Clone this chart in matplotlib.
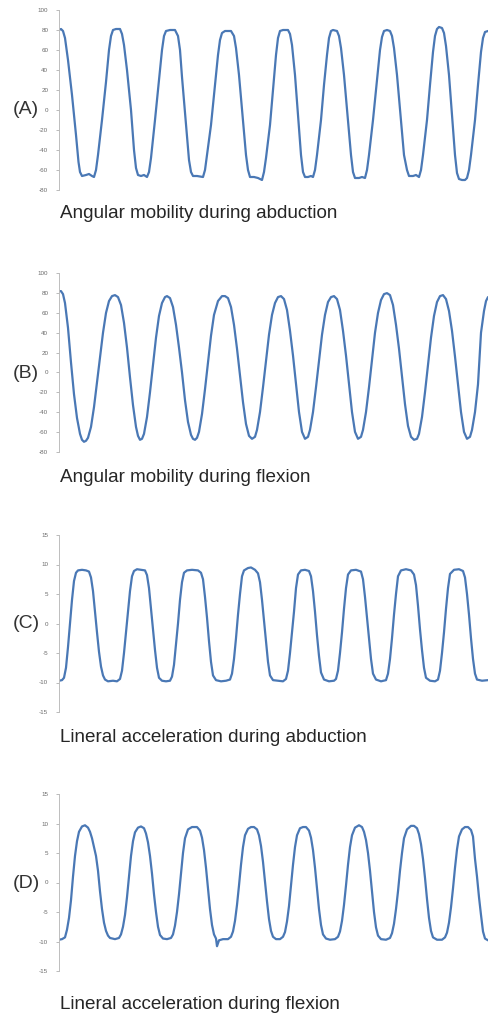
import matplotlib
matplotlib.use("Agg")
import matplotlib.pyplot as plt

# ---------------- data (sample index, value) ----------------
abduction_angle = [
    (59,80),(61,81),(63,79),(65,72),(68,50),(72,15),(76,-25),(78.5,-52),(80,-62),(82,-66),
    (86,-65),(89,-64),(92,-66),(94,-67),(96,-60),(98,-45),(102,-10),(106,28),(109,60),(111,74),(113,80),
    (116,81),(120,81),(122,76),(124,65),(127,40),(131,0),(134,-40),(136,-58),(138,-65),
    (141,-66),(144,-65),(147,-67),(149,-62),(151,-48),(155,-10),(159,30),(162,60),(164,74),(166,79),
    (170,80),(175,80),(178,74),(180,60),(182,33),(186,-15),(189,-50),(191,-62),(193,-66),
    (197,-66),(200,-66.5),(203,-67),(205,-60),(207,-45),(211,-15),(215,25),(218,55),(220,70),(222,77),
    (225,79),(231,79),(234,74),(236,62),(239,35),(243,-10),(246,-45),(248,-60),(250,-67),
    (254,-67),(258,-68),(262,-70),(264,-62),(266,-48),(270,-15),(273,20),(276,55),(278,72),(280,79),
    (283,80),(288,80),(290,76),(292,65),(295,35),(298,-5),(301,-45),(303,-62),(305,-67),
    (308,-67),(311,-66),(313,-67),(315,-60),(317,-45),(321,-10),(324,25),(327,55),(329,72),(331,79),
    (333,80),(337,79),(339,74),(341,62),(344,35),(348,-10),(351,-45),(353,-62),(355,-68),
    (359,-68),(362,-67),(365,-68),(367,-60),(369,-45),(373,-10),(377,30),(380,60),(382,73),(384,79),
    (387,80),(390,79),(392,74),(394,62),(397,35),(401,-10),(404,-45),(407,-60),(409,-66),
    (413,-66),(416,-65),(419,-67),(421,-60),(423,-45),(427,-10),(430,25),(433,58),(435,74),(437,81),
    (439,83),(442,82),(444,77),(446,64),(449,35),(452,-5),(455,-45),(457,-63),(459,-69),
    (462,-70),(465,-70),(467,-68),(469,-60),(471,-45),(475,-10),(478,25),(481,58),(483,72),(485,78),(488,79),
]

flexion_angle = [
    (59,82),(61,82),(63,79),(65,70),(68,45),(71,10),(74,-22),(77,-46),(80,-62),(82,-68),(84,-70),(86,-69),
    (88,-66),(91,-55),(94,-35),(97,-10),(100,15),(103,40),(106,60),(109,72),(112,77),(115,78),(118,76),
    (121,68),(124,50),(127,25),(130,-5),(133,-33),(136,-55),(138,-64),(140,-68),(142,-67),(144,-62),
    (147,-45),(150,-20),(153,8),(156,35),(159,57),(162,70),(165,76),(167,77),(170,75),(173,66),(176,48),
    (179,25),(182,0),(185,-28),(188,-50),(191,-63),(193,-67),(195,-68),(197,-66),(199,-60),(202,-42),
    (205,-17),(208,10),(211,37),(214,58),(218,72),(222,77),(225,77),(228,75),(231,66),(234,48),(237,24),
    (240,-3),(243,-30),(246,-52),(249,-64),(252,-67),(255,-65),(257,-58),(260,-40),(263,-15),(266,12),
    (269,38),(272,58),(275,70),(278,76),(281,77),(284,74),(287,63),(290,42),(293,17),(296,-12),(299,-40),
    (302,-60),(305,-67),(308,-65),(310,-58),(313,-40),(316,-15),(319,12),(322,38),(325,58),(328,71),
    (331,76),(334,77),(337,74),(340,63),(343,42),(346,17),(349,-12),(352,-40),(355,-60),(358,-67),
    (361,-65),(363,-58),(366,-40),(369,-15),(372,12),(375,40),(378,60),(381,73),(384,79),(387,80),
    (390,78),(393,68),(396,48),(399,24),(402,-4),(405,-32),(408,-54),(411,-65),(414,-68),(417,-67),
    (419,-62),(422,-45),(425,-20),(428,8),(431,35),(434,57),(437,71),(440,77),(443,78),(446,74),(449,62),
    (452,42),(455,16),(458,-12),(461,-40),(464,-60),(467,-67),(470,-65),(472,-58),(475,-40),(478,-12),
    (481,40),(484,62),(486,72),(488,76),
]

abduction_accel = [
    (59,-9.7),(62,-9.6),(64,-9.2),(66,-7.5),(68,-4),(70,0),(72,4),(74,7.2),(76,8.6),(78,9),(82,9.1),
    (86,9),(89,8.8),(91,7.8),(93,5.5),(95,2),(97,-1.5),(99,-4.8),(101,-7.3),(103,-8.8),(105,-9.5),
    (108,-9.8),(113,-9.7),(117,-9.8),(120,-9.4),(122,-8),(124,-5),(126,-1.5),(128,2),(130,5.5),(132,8),
    (134,8.9),(137,9.2),(141,9.1),(145,9),(147,8.2),(149,6),(151,2.5),(153,-1),(155,-4.5),(157,-7.5),
    (159,-9.2),(162,-9.7),(166,-9.8),(170,-9.7),(172,-9),(174,-7),(176,-3.5),(178,0),(180,4),(182,7),
    (184,8.6),(187,9),(192,9.1),(198,9),(201,8.6),(203,7.5),(205,4.5),(207,1),(209,-3),(211,-6.5),
    (213,-8.8),(216,-9.6),(221,-9.8),(226,-9.7),(230,-9.5),(232,-8.5),(234,-6),(236,-2.5),(238,1.5),
    (240,5),(242,8),(244,9),(248,9.4),(251,9.5),(255,9.1),(258,8.5),(260,7),(262,4),(264,0.5),(266,-3),
    (268,-6.5),(270,-8.8),(273,-9.6),(278,-9.7),(283,-9.8),(286,-9.4),(288,-8),(290,-5),(292,-1.5),
    (294,2),(296,6),(298,8.3),(301,9),(305,9.1),(309,8.9),(311,8),(313,5.5),(315,2),(317,-2),(319,-5.5),
    (321,-8.3),(324,-9.5),(329,-9.8),(334,-9.7),(336,-9.4),(338,-8),(340,-5),(342,-1.5),(344,2.5),
    (346,6),(348,8.3),(351,9),(356,9.1),(361,8.8),(363,7.5),(365,4.5),(367,1),(369,-2.5),(371,-6),
    (373,-8.5),(376,-9.5),(381,-9.8),(386,-9.6),(388,-8.5),(390,-6),(392,-2.5),(394,1.5),(396,5),
    (398,8),(401,9),(406,9.2),(411,9),(414,8.3),(416,6.5),(418,3),(420,-1),(422,-4.5),(424,-7.5),
    (426,-9.2),(430,-9.7),(435,-9.8),(438,-9.5),(440,-8),(442,-5),(444,-1.5),(446,2.5),(448,6),
    (450,8.4),(454,9.1),(459,9.2),(463,8.9),(465,7.8),(467,5),(469,1.5),(471,-2.5),(473,-6),(475,-8.5),
    (477,-9.5),(482,-9.7),(488,-9.6),
]

flexion_accel = [
    (59,-9.7),(62,-9.6),(65,-9.3),(67,-8),(69,-6),(71,-3),(73,1),(75,4.5),(77,7),(79,8.6),(82,9.5),
    (85,9.7),(88,9.3),(90,8.6),(92,7.5),(94,6),(96,4.5),(98,2),(100,-1.5),(102,-4.5),(104,-6.8),
    (106,-8.2),(108,-9),(110,-9.4),(115,-9.6),(119,-9.4),(121,-8.8),(123,-7.5),(125,-5.5),(127,-2.5),(129,1),
    (131,4.5),(133,7),(135,8.5),(138,9.3),(141,9.5),(144,9.2),(146,8.3),(148,6.8),(150,4.5),(152,1.5),
    (154,-2),(156,-5),(158,-7.5),(160,-8.9),(163,-9.5),(167,-9.6),(171,-9.4),(173,-8.8),(175,-7.3),
    (177,-5),(179,-2),(181,1.5),(183,5),(185,7.5),(188,9),(192,9.4),(197,9.4),(200,8.8),(202,7.6),
    (204,5.5),(206,2.5),(208,-1),(210,-4.5),(212,-7.2),(214,-8.8),(216,-9.5),(217,-10.8),(219,-9.8),
    (223,-9.6),(228,-9.6),(231,-9.2),(233,-8.3),(235,-6.5),(237,-3.8),(239,-0.5),(241,3),(243,6),
    (245,8),(248,9.1),(251,9.4),(254,9.4),(257,9),(259,8),(261,6.2),(263,3.5),(265,0.2),(267,-3.2),
    (269,-6.2),(271,-8.2),(273,-9.2),(276,-9.6),(280,-9.6),(283,-9.2),(285,-8.4),(287,-6.6),(289,-4),
    (291,-0.5),(293,3),(295,6),(297,8),(300,9.2),(303,9.4),(306,9.4),(309,8.8),(311,7.6),(313,5.5),
    (315,2.5),(317,-1),(319,-4.5),(321,-7.2),(323,-8.8),(326,-9.5),(330,-9.7),(335,-9.6),(338,-9.2),
    (340,-8.3),(342,-6.5),(344,-3.8),(346,-0.5),(348,3),(350,6),(352,8),(355,9.3),(359,9.7),(362,9.4),
    (364,8.6),(366,7.2),(368,5),(370,2),(372,-1.5),(374,-5),(376,-7.6),(378,-9),(381,-9.6),(386,-9.7),
    (390,-9.4),(392,-8.6),(394,-7),(396,-4.5),(398,-1.5),(400,2),(402,5),(404,7.5),(407,9),(411,9.6),
    (414,9.6),(417,9.2),(419,8.2),(421,6.5),(423,4),(425,0.8),(427,-2.8),(429,-6),(431,-8.2),(433,-9.3),
    (437,-9.7),(442,-9.7),(445,-9.3),(447,-8.5),(449,-6.8),(451,-4.2),(453,-1),(455,2.5),(457,5.6),
    (459,7.8),(462,9),(465,9.4),(468,9.4),(471,8.9),(473,7.8),(475,4),(477,1),(479,-2.5),(481,-5.5),
    (483,-8.3),(485,-9.5),(488,-9.8),
]

panel_letters = ["(A)", "(B)", "(C)", "(D)"]
captions = [
    "Angular mobility during abduction",
    "Angular mobility during flexion",
    "Lineral acceleration during abduction",
    "Lineral acceleration during flexion",
]
angle_ticks = [-80, -60, -40, -20, 0, 20, 40, 60, 80, 100]
accel_ticks = [-15, -10, -5, 0, 5, 10, 15]

# ---------------- layout ----------------
W, H = 488, 1016
fig = plt.figure(figsize=(W / 100, H / 100), dpi=100)
fig.patch.set_facecolor("white")

LINE = "#4a78b5"
FONT = "Liberation Sans"

# (top px, bottom px) of each y-axis, label centre y px, caption baseline px
panels = [
    (abduction_angle, (10, 190), angle_ticks, (-80, 100), 110, 218),
    (flexion_angle, (273.3, 451.7), angle_ticks, (-80, 100), 373, 482),
    (abduction_accel, (535, 712), accel_ticks, (-15, 15), 623, 742),
    (flexion_accel, (794, 971), accel_ticks, (-15, 15), 883, 1009),
]

left_px = 59
for (pts, (top, bot), ticks, ylim, lab_y, cap_y), letter, cap in zip(panels, panel_letters, captions):
    ax = fig.add_axes([left_px / W, 1 - bot / H, (W - left_px) / W, (bot - top) / H])
    xs = [p[0] for p in pts]
    ys = [p[1] for p in pts]
    ax.plot(xs, ys, color=LINE, lw=1.6, solid_joinstyle="round", solid_capstyle="round")
    ax.set_xlim(59, 488)
    ax.set_ylim(*ylim)
    ax.set_yticks(ticks)
    ax.set_yticklabels([str(t) for t in ticks], fontsize=4.5, color="#6a6a6a", family=FONT)
    ax.tick_params(axis="y", length=2.2, width=0.6, color="#b0b0b0", pad=5.5, direction="out")
    ax.set_xticks([])
    for s in ("top", "right", "bottom"):
        ax.spines[s].set_visible(False)
    ax.spines["left"].set_color("#bdbdbd")
    ax.spines["left"].set_linewidth(0.7)
    ax.patch.set_alpha(0)

    fig.text(26 / W, 1 - lab_y / H, letter, fontsize=14, color="#333333",
             family=FONT, ha="center", va="center")
    fig.text(60 / W, 1 - cap_y / H, cap, fontsize=13.6, color="#262626",
             family=FONT, ha="left", va="baseline")

fig.savefig("out.png", dpi=100, facecolor="white")
